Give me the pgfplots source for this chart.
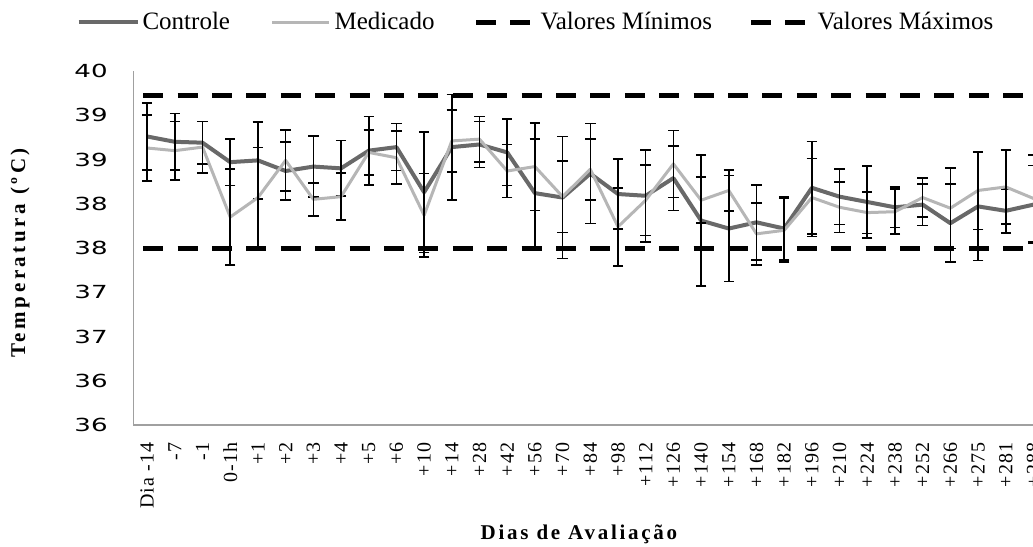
\documentclass[border=0pt]{standalone}
\usepackage{fontspec}
\setmainfont{Liberation Serif}
\newfontfamily\tickfont{DejaVu Sans}
\newfontfamily\ylfont[LetterSpace=17]{Liberation Serif}
\newfontfamily\xlfont[LetterSpace=13]{Liberation Serif}
\newfontfamily\xtfont[LetterSpace=6]{Liberation Serif}
\usepackage{graphicx}
\usepackage{pgfplots}
\pgfplotsset{compat=1.18}
\usepackage{pgfplotstable}
\definecolor{ctrl}{RGB}{105,105,105}
\definecolor{med}{RGB}{182,182,182}
\definecolor{axisgray}{RGB}{160,160,160}
\newcommand\yt[1]{\scalebox{1.45}[1]{#1}}

\pgfplotstableread{
x  c     ce     m     me
0  39.26 0.38   39.13 0.37
1  39.20 0.32   39.10 0.33
2  39.19 0.24   39.14 0.29
3  38.97 0.265  38.35 0.54
4  38.99 0.435  38.57 0.565
5  38.87 0.325  38.99 0.345
6  38.92 0.345  38.55 0.185
7  38.90 0.315  38.58 0.265
8  39.10 0.385  39.08 0.255
9  39.14 0.265  39.02 0.30
10 38.63 0.68   38.37 0.47
11 39.14 0.595  39.21 0.35
12 39.17 0.26   39.23 0.255
13 39.08 0.375  38.87 0.30
14 38.62 0.61   38.92 0.495
15 38.57 0.69   38.58 0.405
16 38.84 0.565  38.89 0.345
17 38.61 0.395  38.24 0.44
18 38.59 0.52   38.54 0.40
19 38.79 0.365  38.95 0.38
20 38.31 0.74   38.54 0.26
21 38.22 0.60   38.65 0.23
22 38.29 0.425  38.16 0.35
23 38.22 0.355  38.20 0.36
24 38.68 0.525  38.57 0.44
25 38.58 0.315  38.46 0.285
26 38.52 0.405  38.40 0.235
27 38.46 0.23   38.41 0.255
28 38.49 0.235  38.57 0.22
29 38.28 0.44   38.45 0.455
30 38.47 0.61   38.65 0.44
31 38.42 0.25   38.69 0.42
32 38.49 0.44   38.56 0.49
}\datatable

\begin{document}
\begin{tikzpicture}
\begin{axis}[
  at={(0,0)}, anchor=south west,
  scale only axis, width=457pt, height=177pt,
  xmin=-0.5, xmax=32.5, ymin=36, ymax=40,
  axis lines=left,
  axis line style={-, draw=axisgray, line width=0.6pt},
  major tick length=0pt,
  xtick={0,...,32},
  xticklabels={Dia -14,-7,-1,0-1h,+1,+2,+3,+4,+5,+6,+10,+14,+28,+42,+56,+70,+84,+98,+112,+126,+140,+154,+168,+182,+196,+210,+224,+238,+252,+266,+275,+281,+288},
  xticklabel style={yshift=-8.5pt, rotate=90, anchor=east, inner sep=0pt, font=\xtfont\fontsize{10}{11}\selectfont},
  ytick={36,36.5,37,37.5,38,38.5,39,39.5,40},
  yticklabels={\yt{36},\yt{36},\yt{37},\yt{37},\yt{38},\yt{38},\yt{39},\yt{39},\yt{40}},
  yticklabel style={anchor=east, inner sep=0pt, xshift=-12.6pt, font=\tickfont\fontsize{9}{10}\selectfont},
  xlabel={\xlfont\bfseries Dias de Avaliação},
  xlabel style={at={(axis description cs:0.4876,-0.31)}, anchor=center, font=\fontsize{10.5}{12}\selectfont},
  ylabel={\ylfont\bfseries Temperatura (ºC)},
  ylabel style={at={(axis description cs:-0.124,0.486)}, anchor=center, font=\fontsize{10.5}{12}\selectfont},
  legend columns=4,
  legend style={draw=none, fill=none, at={(axis description cs:-0.0625,1.1384)}, anchor=west,
    inner sep=0pt, column sep=0pt, font=\fontsize{12.5}{14}\selectfont,
    nodes={inner sep=0pt}},
  clip=false,
]
\addplot[ctrl, line width=2pt, line join=round,
  legend image code/.code={\draw[ctrl, line width=2pt] (0pt,0pt) -- (29.5pt,0pt);},
  error bars/.cd, y dir=both, y explicit,
  error bar style={black, line width=0.8pt},
  error mark options={black, rotate=90, mark size=2.6pt, line width=0.8pt}]
  table[x=x, y=c, y error=ce]{\datatable};
\addlegendentry{\makebox[65.5pt][l]{\hspace{1.5pt}Controle}}
\addplot[med, line width=1.5pt, line join=round,
  legend image code/.code={\draw[med, line width=1.5pt] (0pt,0pt) -- (28.5pt,0pt);},
  error bars/.cd, y dir=both, y explicit,
  error bar style={black, line width=0.8pt},
  error mark options={black, rotate=90, mark size=2.6pt, line width=0.8pt}]
  table[x=x, y=m, y error=me]{\datatable};
\addlegendentry{\makebox[71.5pt][l]{\hspace{2pt}Medicado}}
\addplot[black, line width=2.5pt, dash pattern=on 10pt off 7.2pt,
  legend image code/.code={\draw[black, line width=2.5pt, dash pattern=on 10pt off 7pt] (0pt,0pt) -- (27pt,0pt);}]
  coordinates {(-0.14,38) (32.5,38)};
\addlegendentry{\makebox[108pt][l]{\hspace{4pt}Valores Mínimos}}
\addplot[black, line width=2.5pt, dash pattern=on 10pt off 7.2pt,
  legend image code/.code={\draw[black, line width=2.5pt, dash pattern=on 10pt off 7pt] (0pt,0pt) -- (27pt,0pt);}]
  coordinates {(-0.14,39.72) (32.5,39.72)};
\addlegendentry{\hspace{5pt}Valores Máximos}
\end{axis}
\pgfresetboundingbox
\path[use as bounding box] (-66.65pt,-60.5pt) rectangle (449.85pt,212.5pt);
\end{tikzpicture}
\end{document}
